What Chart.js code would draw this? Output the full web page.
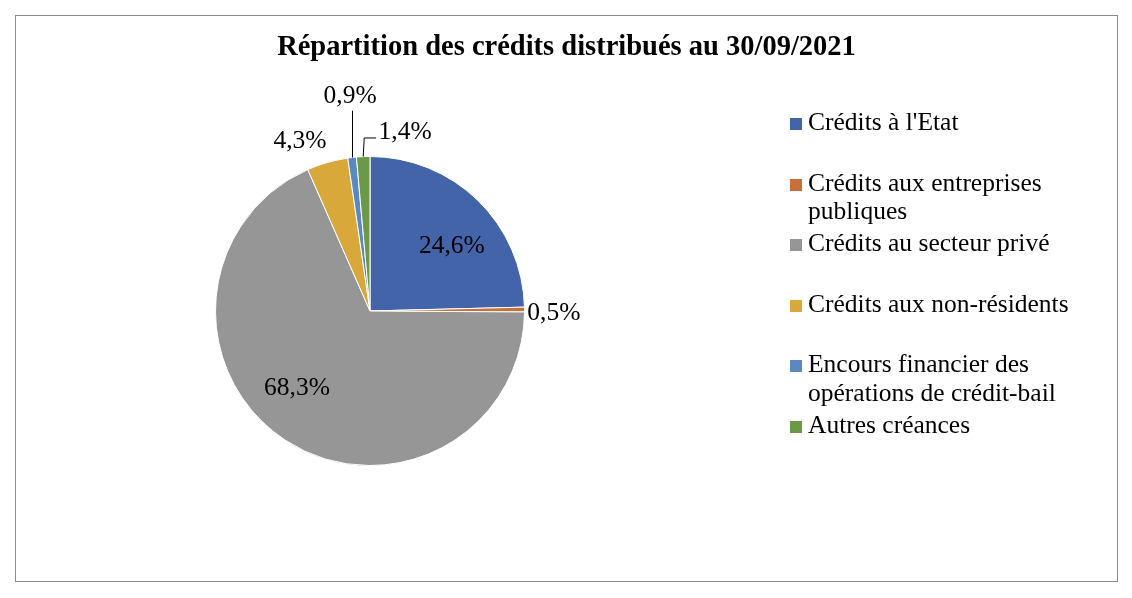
<!DOCTYPE html>
<html lang="fr">
<head>
<meta charset="UTF-8" />
<title>Répartition des crédits</title>
<script src="https://cdn.jsdelivr.net/npm/chart.js"></script>
<style>
  body { margin: 0; background: #fff; font-family: "Liberation Serif", serif; }
  #frame { position: absolute; left: 15px; top: 15px; width: 1101px; height: 565px; border: 1px solid #8c8c8c; }
  #title { position: absolute; left: 0; width: 100%; top: 14px; text-align: center; font-weight: bold; font-size: 28.5px; color: #000; }
  #chartBox { position: absolute; left: 0; top: 0; }
  #legend { position: absolute; left: 774px; top: 92px; }
  .item { height: 60.5px; display: flex; align-items: flex-start; }
  .sw { width: 12px; height: 12px; margin-top: 10px; margin-right: 6px; flex: none; }
  .txt { font-size: 25.5px; line-height: 28.5px; color: #000; width: 310px; white-space: nowrap; }
</style>
</head>
<body>
<div id="frame">
  <canvas id="chartBox" width="1101" height="565"></canvas>
  <div id="title">Répartition des crédits distribués au 30/09/2021</div>
  <div id="legend"></div>
</div>
<script>
  const labels = [
    "Crédits à l'Etat",
    "Crédits aux entreprises publiques",
    "Crédits au secteur privé",
    "Crédits aux non-résidents",
    "Encours financier des opérations de crédit-bail",
    "Autres créances"
  ];
  const values = [24.6, 0.5, 68.3, 4.3, 0.9, 1.4];
  const colors = ['#4364A9', '#C8703A', '#969696', '#D9A83A', '#5B88C0', '#6A9A48'];
  const legendLines = [
    ["Crédits à l'Etat"],
    ["Crédits aux entreprises", "publiques"],
    ["Crédits au secteur privé"],
    ["Crédits aux non-résidents"],
    ["Encours financier des", "opérations de crédit-bail"],
    ["Autres créances"]
  ];

  // label placement: radial factor + nudge, leader = draw line from arc edge
  const labelPos = [
    { r: 0.62, dx: 15, dy: 4 },
    { r: 1.19, dx: 0, dy: 4 },
    { r: 0.66, dx: -17, dy: -8 },
    { r: 1.15, dx: -21, dy: 1 },
    { r: 1.39, dx: 5, dy: -1, leader: 'vertical' },
    { r: 1.16, dx: 43, dy: 0, leader: 'elbow' }
  ];

  document.getElementById('legend').innerHTML = legendLines.map((l, i) => `
    <div class="item"><div class="sw" style="background:${colors[i]}"></div>
    <div class="txt">${l.join('<br>')}</div></div>`).join('');

  const fmt = v => v.toFixed(1).replace('.', ',') + '%';

  const labelPlugin = {
    id: 'pieLabels',
    afterDatasetsDraw(chart) {
      const ctx = chart.ctx;
      const arcs = chart.getDatasetMeta(0).data;
      ctx.save();
      ctx.font = '25.5px "Liberation Serif", serif';
      ctx.fillStyle = '#000';
      ctx.textAlign = 'center';
      ctx.textBaseline = 'middle';
      arcs.forEach((arc, i) => {
        const p = labelPos[i];
        const mid = (arc.startAngle + arc.endAngle) / 2;
        const R = arc.outerRadius;
        const lx = arc.x + Math.cos(mid) * R * p.r + p.dx;
        const ly = arc.y + Math.sin(mid) * R * p.r + p.dy;
        const ex = arc.x + Math.cos(mid) * R;
        const ey = arc.y + Math.sin(mid) * R;
        ctx.strokeStyle = '#000';
        ctx.lineWidth = 1;
        if (p.leader === 'vertical') {
          ctx.beginPath();
          ctx.moveTo(Math.round(ex) + 0.5, ey);
          ctx.lineTo(Math.round(ex) + 0.5, ly + 14);
          ctx.stroke();
        } else if (p.leader === 'elbow') {
          ctx.beginPath();
          ctx.moveTo(ex, ey);
          ctx.lineTo(ex + 1, ly + 6);
          ctx.lineTo(lx - 29, ly + 6);
          ctx.stroke();
        }
        ctx.fillText(fmt(values[i]), lx, ly);
      });
      ctx.restore();
    }
  };

  new Chart(document.getElementById('chartBox'), {
    type: 'pie',
    data: {
      labels: labels,
      datasets: [{
        data: values,
        backgroundColor: colors,
        borderColor: '#fff',
        borderWidth: 1
      }]
    },
    options: {
      responsive: false,
      animation: false,
      layout: { padding: { left: 199, right: 592, top: 140, bottom: 115 } },
      plugins: {
        legend: { display: false },
        tooltip: { enabled: false },
        title: { display: false }
      }
    },
    plugins: [labelPlugin]
  });
</script>
</body>
</html>
